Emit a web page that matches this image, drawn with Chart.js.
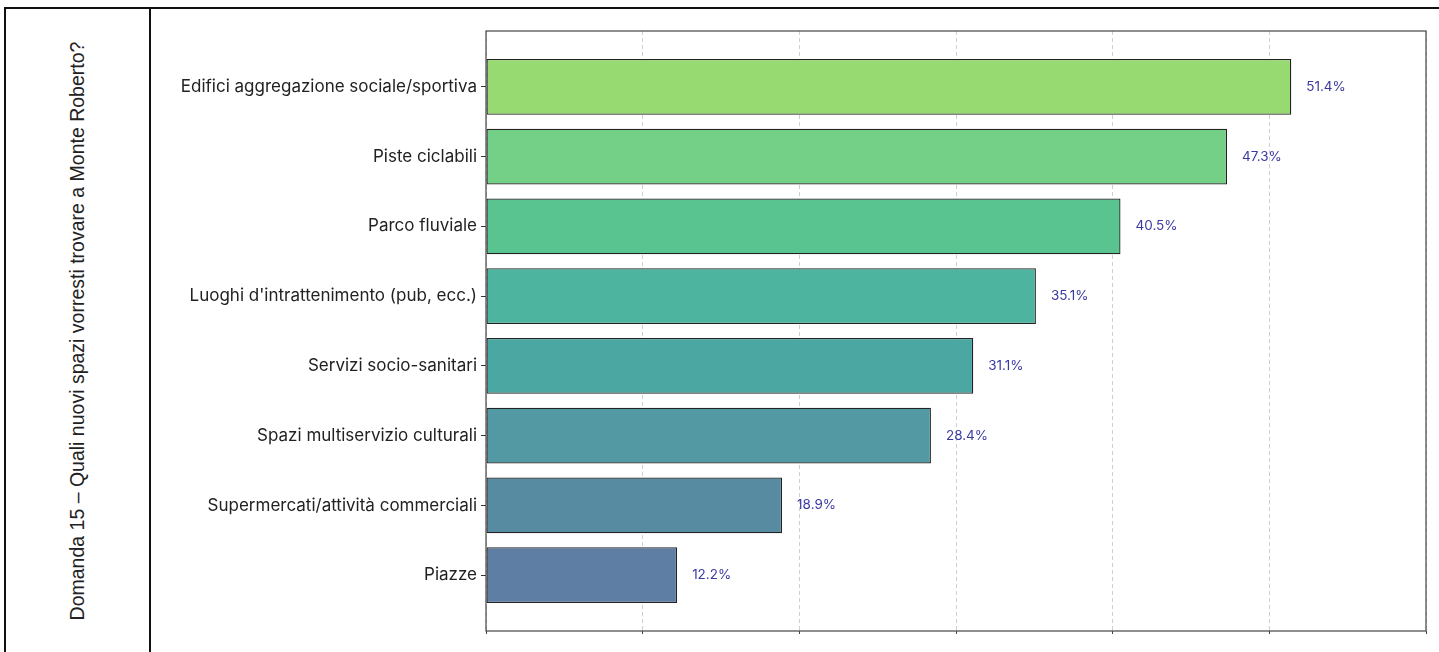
<!DOCTYPE html>
<html>
<head>
<meta charset="utf-8">
<script src="https://cdn.jsdelivr.net/npm/chart.js@4"></script>
<style>
  html, body { margin: 0; padding: 0; background: #fff; }
  body { width: 1439px; height: 652px; position: relative; overflow: hidden; }
  #frame { position: absolute; left: 4px; top: 7px; width: 1440px; height: 700px;
           border-left: 2px solid #111; border-top: 2px solid #111; box-sizing: border-box; }
  #divider { position: absolute; left: 149px; top: 7px; width: 2px; height: 700px; background: #111; }
  #question { position: absolute; left: 77px; top: 331px; transform: translate(-50%, -50%) rotate(-90deg);
              white-space: nowrap; font-family: "Liberation Sans", Arial, sans-serif; font-size: 19.5px; color: #222; }
  #chartBox { position: absolute; left: 0; top: 0; width: 1439px; height: 652px; }
</style>
</head>
<body>
<div id="frame"></div>
<div id="divider"></div>
<div id="question">Domanda 15 – Quali nuovi spazi vorresti trovare a Monte Roberto?</div>
<div id="chartBox"><canvas id="barChart" width="1439" height="652"></canvas></div>
<script>
// === DATA ===
const categories = [
  "Edifici aggregazione sociale/sportiva",
  "Piste ciclabili",
  "Parco fluviale",
  "Luoghi d'intrattenimento (pub, ecc.)",
  "Servizi socio-sanitari",
  "Spazi multiservizio culturali",
  "Supermercati/attività commerciali",
  "Piazze"
];
const percentages = [51.4, 47.3, 40.5, 35.1, 31.1, 28.4, 18.9, 12.2];
const barColors = ["#97da71", "#75d087", "#59c48f", "#4db59f", "#4aa7a2", "#5299a3", "#578ba2", "#5e7ea4"];
const xTicks = [0, 10, 20, 30, 40, 50, 60];

// value labels to the right of each bar
const valueLabels = {
  id: "valueLabels",
  afterDatasetsDraw(chart) {
    const ctx = chart.ctx;
    const meta = chart.getDatasetMeta(0);
    ctx.save();
    ctx.font = "13.5px Inter, 'Open Sans', sans-serif";
    ctx.fillStyle = "#3a3aa2";
    ctx.textBaseline = "middle";
    meta.data.forEach((bar, i) => {
      ctx.fillText(percentages[i].toFixed(1) + "%", bar.x + 15, bar.y);
    });
    ctx.restore();
  }
};

// box around plot area
const plotFrame = {
  id: "plotFrame",
  afterDraw(chart) {
    const a = chart.chartArea;
    const ctx = chart.ctx;
    ctx.save();
    ctx.strokeStyle = "#444";
    ctx.lineWidth = 1.2;
    ctx.strokeRect(a.left, a.top, a.right - a.left, a.bottom - a.top);
    ctx.restore();
  }
};

new Chart(document.getElementById("barChart"), {
  type: "bar",
  data: {
    datasets: [{
      data: percentages.map((v, i) => ({ x: v, y: i })),
      backgroundColor: barColors,
      borderColor: "#222",
      borderWidth: 1.3,
      borderSkipped: false,
      barPercentage: 0.8,
      categoryPercentage: 1
    }]
  },
  options: {
    indexAxis: "y",
    responsive: false,
    animation: false,
    devicePixelRatio: 1,
    layout: { padding: { left: 150, top: 31, right: 13, bottom: 21 } },
    plugins: { legend: { display: false }, tooltip: { enabled: false } },
    scales: {
      x: {
        type: "linear",
        min: 0, max: 60,
        afterBuildTicks: s => { s.ticks = xTicks.map(v => ({ value: v })); },
        afterFit: s => { s.height = 0; },
        ticks: { display: false },
        border: { display: false, dash: [4, 3] },
        grid: { color: "#cfcfcf", drawTicks: true, tickLength: 3, tickColor: "#444" }
      },
      y: {
        type: "linear",
        reverse: true,
        offset: false,
        min: -0.8, max: 7.8,
        afterBuildTicks: s => { s.ticks = categories.map((c, i) => ({ value: i })); },
        afterFit: s => { s.width = 336; },
        ticks: {
          callback: v => categories[v],
          color: "#222",
          padding: 4,
          font: { family: "Inter, 'Open Sans', sans-serif", size: 17 }
        },
        border: { display: false },
        grid: { offset: false, drawOnChartArea: false, drawTicks: true, tickLength: 5, tickColor: "#333" }
      }
    }
  },
  plugins: [valueLabels, plotFrame]
});
</script>
</body>
</html>
